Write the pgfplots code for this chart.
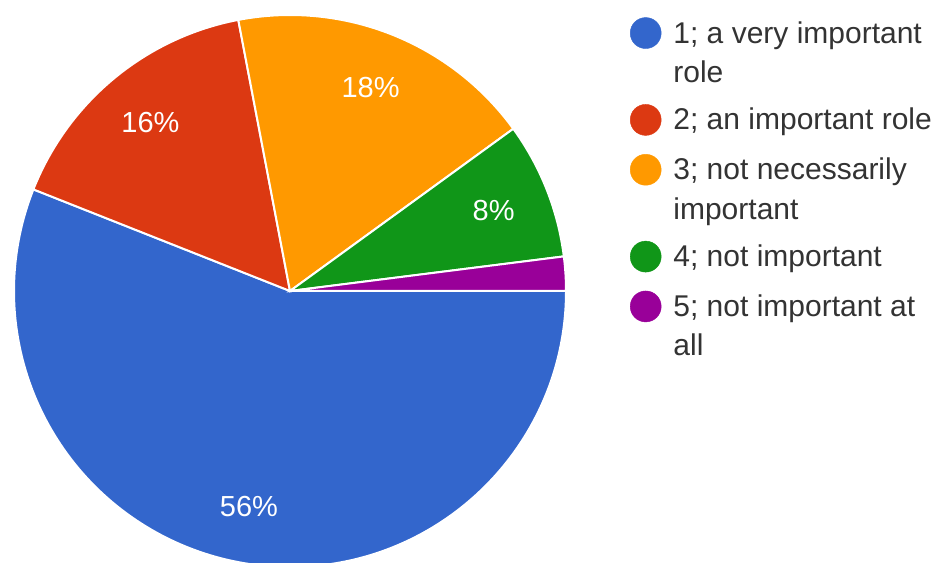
\documentclass[border=0pt]{standalone}
\usepackage{pgfplots}
\pgfplotsset{compat=1.18}
\usepackage{fontspec}
\setmainfont{Liberation Sans}
\definecolor{c1}{HTML}{3366CC}
\definecolor{c2}{HTML}{DC3912}
\definecolor{c3}{HTML}{FF9900}
\definecolor{c4}{HTML}{109618}
\definecolor{c5}{HTML}{990099}
\definecolor{legtext}{HTML}{333333}
\begin{document}
\begin{tikzpicture}
\begin{axis}[
  x=1pt, y=1pt, xmin=0, xmax=941, ymin=0, ymax=562,
  hide axis, clip=false,
  legend image code/.code={\fill[#1] (15.5pt,10pt) circle (15.5pt);},
  legend style={at={(axis cs:630,546.6)}, anchor=north west, draw=none, fill=none,
    inner sep=0pt, outer sep=0pt, row sep=16.5pt, column sep=12pt,
    font=\fontsize{30}{39.5}\selectfont, text=legtext,
    nodes={inner sep=0pt, align=left, anchor=base west}},
]
\pgfplotsextra{
  \gdef\cum{0}
  \foreach \v/\col in {56/c1,16/c2,18/c3,8/c4,2/c5}{
    \pgfmathsetmacro\a{-3.6*\cum}
    \pgfmathsetmacro\b{-3.6*(\cum+\v)}
    \pgfmathsetmacro\m{(\a+\b)/2}
    \fill[\col, draw=white, line width=2pt] (axis cs:290,271) -- ++(\a:276pt)
      arc[start angle=\a, end angle=\b, radius=276pt] -- cycle;
    \ifdim\v pt>5pt
      \node[text=white, font=\fontsize{29}{34}\selectfont] at ([shift={(\m:219pt)}]axis cs:290,271) {\v\%};
    \fi
    \pgfmathsetmacro\c{\cum+\v}
    \xdef\cum{\c}
  }
  \path (axis cs:0,0) rectangle (axis cs:941,562);
}
\addlegendimage{legend image code/.code={\fill[c1] (15.5pt,49.5pt) circle (15.5pt); \path (15pt,-3pt);}}
\addlegendentry{\strut 1; a very important\\role\strut}
\addlegendimage{c2}
\addlegendentry{\strut 2; an important role\strut}
\addlegendimage{legend image code/.code={\fill[c3] (15.5pt,49.5pt) circle (15.5pt); \path (15pt,-3pt);}}
\addlegendentry{\strut 3; not necessarily\\important\strut}
\addlegendimage{c4}
\addlegendentry{\strut 4; not important\strut}
\addlegendimage{legend image code/.code={\fill[c5] (15.5pt,49.5pt) circle (15.5pt); \path (15pt,-3pt);}}
\addlegendentry{\strut 5; not important at\\all\strut}
\end{axis}
\pgfresetboundingbox
\path (current axis.south west) rectangle (current axis.north east);
\end{tikzpicture}
\end{document}
